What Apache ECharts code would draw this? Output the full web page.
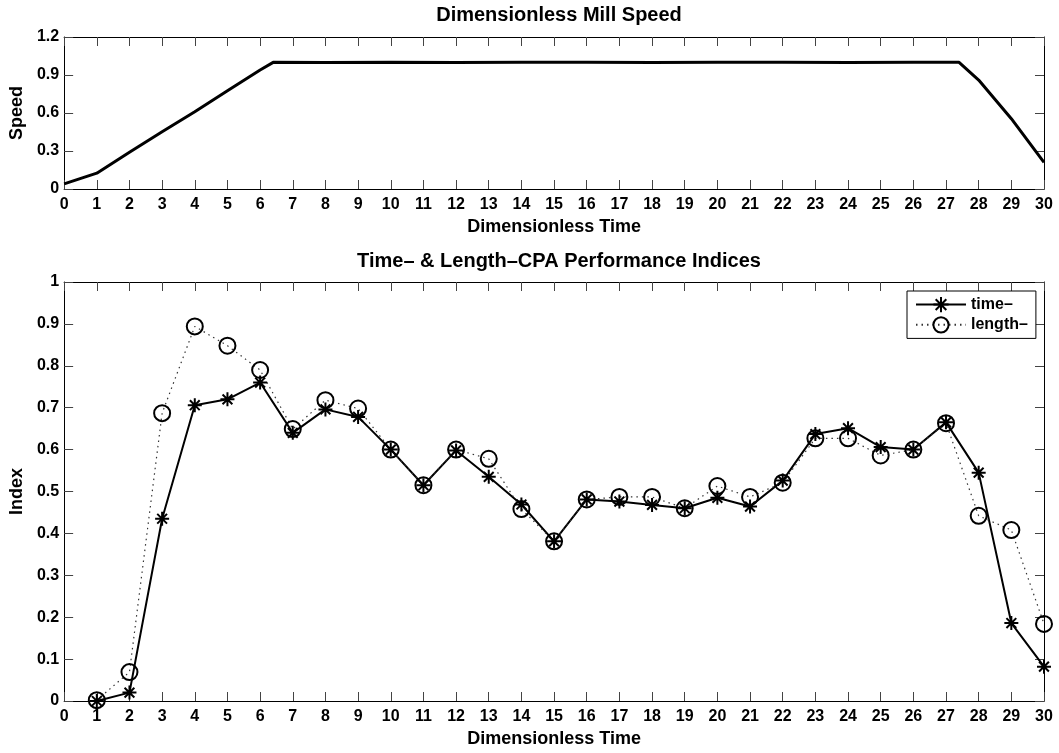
<!DOCTYPE html>
<html>
<head>
<meta charset="utf-8">
<script src="https://cdn.jsdelivr.net/npm/echarts@6/dist/echarts.min.js"></script>
<style>html,body{margin:0;padding:0;background:#fff}#c{width:1059px;height:753px}</style>
</head>
<body>
<div id="c"></div>
<script>
// ---- Data ----
const speedTime   = [0, 1, 2, 3, 4, 5, 6, 6.4, 8, 10, 12, 14, 16, 18, 20, 22, 24, 26, 27.4, 28, 29, 30];
const speedValues = [0.04, 0.125, 0.29, 0.452, 0.61, 0.775, 0.94, 1.0, 0.998, 1.0, 0.999, 1.0, 1.0, 0.999, 1.0, 1.0, 0.999, 1.0, 1.0, 0.86, 0.555, 0.21];

const indexTime   = [1, 2, 3, 4, 5, 6, 7, 8, 9, 10, 11, 12, 13, 14, 15, 16, 17, 18, 19, 20, 21, 22, 23, 24, 25, 26, 27, 28, 29, 30];
const timeCPA     = [0.0, 0.02, 0.435, 0.706, 0.72, 0.76, 0.64, 0.696, 0.678, 0.6, 0.515, 0.598, 0.535, 0.469, 0.381, 0.481, 0.476, 0.468, 0.46, 0.485, 0.464, 0.526, 0.637, 0.651, 0.606, 0.6, 0.665, 0.545, 0.186, 0.082];
const lengthCPA   = [0.002, 0.069, 0.687, 0.894, 0.848, 0.79, 0.649, 0.718, 0.698, 0.6, 0.515, 0.6, 0.578, 0.458, 0.381, 0.481, 0.487, 0.487, 0.46, 0.513, 0.487, 0.521, 0.627, 0.627, 0.586, 0.6, 0.663, 0.442, 0.408, 0.184];

const speedTicks = ['0', '0.3', '0.6', '0.9', '1.2'];

const FONT = 'Liberation Sans';
const chart = echarts.init(document.getElementById('c'));

const pair = (xs, ys) => xs.map((x, i) => [x, ys[i]]);

const starPath = 'path://M0,5L10,5M5,0L5,10M1.5,1.5L8.5,8.5M8.5,1.5L1.5,8.5';

function xAx(gridIndex, pos, showLabels, name) {
  return {
    type: 'value', gridIndex, position: pos, min: 0, max: 30, interval: 1,
    name: name || '', nameLocation: 'middle', nameGap: 29,
    nameTextStyle: {fontFamily: FONT, fontWeight: 'bold', fontSize: 18, color: '#000'},
    axisLine: {show: true, onZero: false, lineStyle: {color: '#000', width: 1}},
    axisTick: {show: true, inside: true, length: 9, lineStyle: {color: '#444', width: 1}},
    axisLabel: {show: showLabels, margin: 8, fontFamily: FONT, fontWeight: 'bold', fontSize: 16, color: '#000'},
    splitLine: {show: false}
  };
}
function yAx(gridIndex, pos, showLabels, min, max, interval, name, fmt) {
  return {
    type: 'value', gridIndex, position: pos, min, max, interval,
    name: name || '', nameLocation: 'middle', nameGap: 36,
    nameTextStyle: {fontFamily: FONT, fontWeight: 'bold', fontSize: 18, color: '#000'},
    axisLine: {show: true, onZero: false, lineStyle: {color: '#000', width: 1}},
    axisTick: {show: true, inside: true, length: 9, lineStyle: {color: '#444', width: 1}},
    axisLabel: {show: showLabels, margin: 5, fontFamily: FONT, fontWeight: 'bold', fontSize: 16, color: '#000', formatter: fmt},
    splitLine: {show: false}
  };
}

const option = {
  backgroundColor: '#fff',
  animation: false,
  title: [
    {text: 'Dimensionless Mill Speed', left: 554, top: 0, textAlign: 'center',
     textStyle: {fontFamily: FONT, fontWeight: 'bold', fontSize: 20, color: '#000'}},
    {text: 'Time\u2013 & Length\u2013CPA Performance Indices', left: 554, top: 246, textAlign: 'center',
     textStyle: {fontFamily: FONT, fontWeight: 'bold', fontSize: 20, color: '#000'}}
  ],
  grid: [
    {left: 63, right: 15, top: 37, height: 152},
    {left: 63, right: 15, top: 282, height: 422}
  ],
  xAxis: [
    xAx(0, 'bottom', true, 'Dimensionless Time'),
    xAx(0, 'top', false),
    xAx(1, 'bottom', true, 'Dimensionless Time'),
    xAx(1, 'top', false)
  ],
  yAxis: [
    yAx(0, 'left', true, 0, 1.2, 0.3, 'Speed', v => speedTicks[Math.round(v / 0.3)]),
    yAx(0, 'right', false, 0, 1.2, 0.3),
    yAx(1, 'left', true, 0, 1, 0.1, 'Index', v => (Math.round(v * 10) / 10).toString()),
    yAx(1, 'right', false, 0, 1, 0.1)
  ],
  legend: {
    left: 907, top: 291, orient: 'vertical',
    padding: [5, 8, 5, 8], itemGap: 3, itemWidth: 50, itemHeight: 19,
    borderColor: '#000', borderWidth: 1, backgroundColor: '#fff',
    textStyle: {fontFamily: FONT, fontWeight: 'bold', fontSize: 16, color: '#000'},
    data: ['time\u2013', 'length\u2013']
  },
  series: [
    {
      type: 'line', xAxisIndex: 0, yAxisIndex: 0, data: pair(speedTime, speedValues),
      showSymbol: false, symbol: 'none', lineStyle: {color: '#000', width: 3}, silent: true
    },
    {
      name: 'time\u2013', type: 'line', xAxisIndex: 2, yAxisIndex: 2, data: pair(indexTime, timeCPA),
      symbol: starPath, symbolSize: 14, showAllSymbol: true,
      lineStyle: {color: '#000', width: 2},
      itemStyle: {color: 'rgba(0,0,0,0)', borderColor: '#000', borderWidth: 2}
    },
    {
      name: 'length\u2013', type: 'line', xAxisIndex: 2, yAxisIndex: 2, data: pair(indexTime, lengthCPA),
      symbol: 'circle', symbolSize: 16, showAllSymbol: true,
      lineStyle: {color: '#333', width: 1.2, type: [1.5, 4]},
      itemStyle: {color: 'rgba(0,0,0,0)', borderColor: '#000', borderWidth: 2}
    }
  ]
};
chart.setOption(option);
</script>
</body>
</html>
